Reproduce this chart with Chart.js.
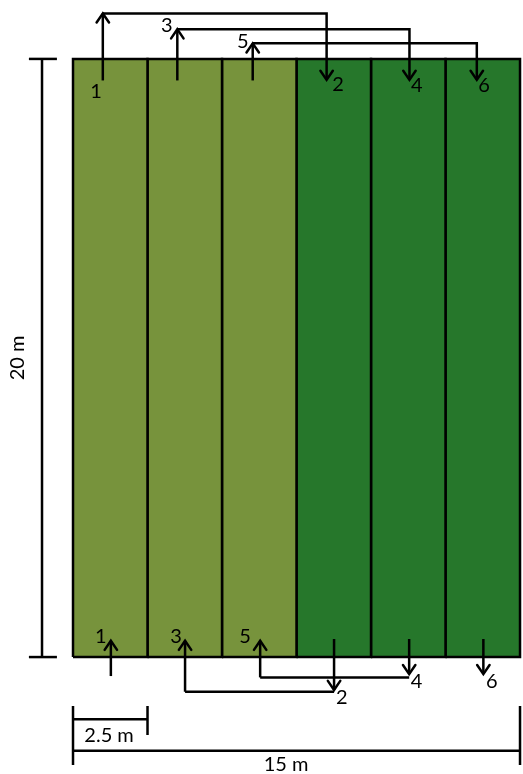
<!DOCTYPE html>
<html>
<head>
<meta charset="utf-8">
<script src="https://cdn.jsdelivr.net/npm/chart.js@4.4.1/dist/chart.umd.min.js"></script>
<style>
  body { margin: 0; background: #fff; }
  canvas { display: block; }
</style>
</head>
<body>
<canvas id="myChart" width="523" height="774"></canvas>
<script>
// field in metres: 6 strips of 2.5 m, 20 m long
var stripEdges = [0, 2.5, 5, 7.5, 10, 12.5, 15];
var stripColors = ["#77933c", "#77933c", "#77933c", "#26772b", "#26772b", "#26772b"];
var fieldLength = 20;

// arrow paths (x, y in metres); last point gets the arrow head
var topUp = [
  [[1.0, 19.28], [1.0, 21.52]],
  [[3.5, 19.28], [3.5, 20.99]],
  [[6.03, 19.28], [6.03, 20.52]]
];
var topOver = [
  [[1.0, 21.52], [8.51, 21.52], [8.51, 19.30]],
  [[3.5, 20.99], [11.29, 20.99], [11.29, 19.30]],
  [[6.03, 20.52], [13.55, 20.52], [13.55, 19.30]]
];
var bottomUp = [
  [[1.27, -0.635], [1.27, 0.545]],
  [[3.76, -1.16], [3.76, 0.545]],
  [[6.28, -0.68], [6.28, 0.545]]
];
var bottomLinks = [
  [[3.76, -1.16], [8.76, -1.16]],
  [[6.28, -0.68], [11.28, -0.68]]
];
var bottomDown = [
  [[8.76, 0.60], [8.76, -1.10]],
  [[11.28, 0.60], [11.28, -0.57]],
  [[13.77, 0.60], [13.77, -0.57]]
];

var numberLabels = ["1", "2", "3", "4", "5", "6", "1", "3", "5", "2", "4", "6"];
var numberPos = [
  [0.77, 18.90], [8.89, 19.13], [3.15, 21.10], [11.54, 19.10], [5.70, 20.58], [13.79, 19.10],
  [0.93, 0.68], [3.46, 0.67], [5.77, 0.67], [9.02, -1.37], [11.53, -0.83], [14.05, -0.83]
];

// dimension lines
var dimLines = [
  [[-1.04, 0], [-1.04, 20]],
  [[-1.48, 20], [-0.54, 20]],
  [[-1.48, 0], [-0.54, 0]],
  [[0, -1.64], [0, -3.61]],
  [[2.5, -1.64], [2.5, -2.61]],
  [[0, -2.08], [2.5, -2.08]],
  [[0, -3.13], [15, -3.13]],
  [[15, -1.64], [15, -3.61]]
];
var dimLabels = ["20 m", "2.5 m", "15 m"];
var dimPos = [[-1.85, 10.0], [1.21, -2.61], [7.15, -3.61]];
var dimRotate = [true, false, false];

function pts(a) {
  return a.map(function(p){ return {x: p[0], y: p[1]}; });
}

var datasets = [];
function addLines(list, arrow) {
  list.forEach(function(a){
    datasets.push({
      data: pts(a),
      borderColor: "#000",
      borderWidth: 2.5,
      showLine: true,
      fill: false,
      pointRadius: 0,
      arrow: arrow
    });
  });
}
addLines(topUp, true);
addLines(topOver, true);
addLines(bottomUp, true);
addLines(bottomLinks, false);
addLines(bottomDown, true);
addLines(dimLines, false);

// strips go last so they are drawn underneath the arrows
for (var i = 0; i < 6; i++) {
  datasets.push({
    data: pts([[stripEdges[i], 0], [stripEdges[i+1], 0], [stripEdges[i+1], fieldLength],
               [stripEdges[i], fieldLength], [stripEdges[i], 0]]),
    backgroundColor: stripColors[i],
    borderColor: "#000",
    borderWidth: 2.5,
    fill: "shape",
    showLine: true,
    pointRadius: 0,
    tension: 0
  });
}

var extras = {
  id: "extras",
  afterDatasetsDraw: function(chart) {
    var ctx = chart.ctx;
    var xs = chart.scales.x, ys = chart.scales.y;
    ctx.save();
    ctx.strokeStyle = "#000";
    ctx.lineWidth = 2.5;
    ctx.lineCap = "round";
    chart.data.datasets.forEach(function(ds){
      if (!ds.arrow) return;
      var n = ds.data.length;
      var a = ds.data[n-2], b = ds.data[n-1];
      var x1 = xs.getPixelForValue(a.x), y1 = ys.getPixelForValue(a.y);
      var x2 = xs.getPixelForValue(b.x), y2 = ys.getPixelForValue(b.y);
      var ang = Math.atan2(y2 - y1, x2 - x1);
      var L = 11, s = 0.6;
      ctx.beginPath();
      ctx.moveTo(x2 - L*Math.cos(ang - s), y2 - L*Math.sin(ang - s));
      ctx.lineTo(x2, y2);
      ctx.lineTo(x2 - L*Math.cos(ang + s), y2 - L*Math.sin(ang + s));
      ctx.stroke();
    });
    ctx.fillStyle = "#000";
    ctx.textAlign = "center";
    ctx.textBaseline = "middle";
    ctx.font = "20px Lato, 'Open Sans', sans-serif";
    numberLabels.forEach(function(t, k){
      ctx.fillText(t, xs.getPixelForValue(numberPos[k][0]), ys.getPixelForValue(numberPos[k][1]));
    });
    dimLabels.forEach(function(t, k){
      var px = xs.getPixelForValue(dimPos[k][0]), py = ys.getPixelForValue(dimPos[k][1]);
      ctx.save();
      ctx.translate(px, py);
      if (dimRotate[k]) ctx.rotate(-Math.PI/2);
      ctx.fillText(t, 0, 0);
      ctx.restore();
    });
    ctx.restore();
  }
};

new Chart(document.getElementById("myChart"), {
  type: "scatter",
  data: { datasets: datasets },
  options: {
    responsive: false,
    animation: false,
    layout: { padding: 0 },
    clip: false,
    plugins: { legend: { display: false }, tooltip: { enabled: false } },
    scales: {
      x: { type: "linear", min: -2.45, max: 15.1, display: false },
      y: { type: "linear", min: -3.91, max: 21.97, display: false }
    }
  },
  plugins: [extras]
});
</script>
</body>
</html>
